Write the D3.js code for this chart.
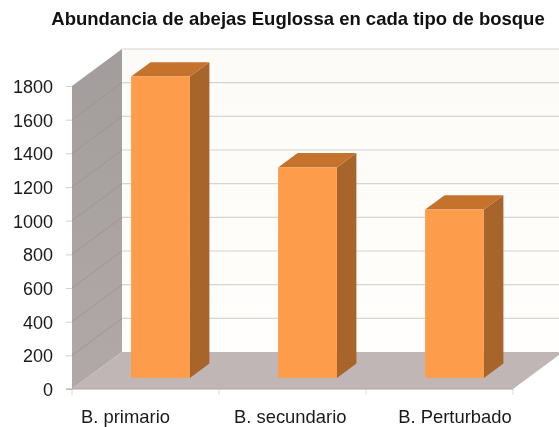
<!DOCTYPE html>
<html>
<head>
<meta charset="utf-8">
<script src="https://cdn.jsdelivr.net/npm/d3@7"></script>
<style>
  html, body { margin: 0; padding: 0; background: #fff; }
  text { font-family: "Liberation Sans", Arial, sans-serif; fill: #1a1a1a; }
  svg { filter: blur(0.4px); }
</style>
</head>
<body>
<div id="chart"></div>
<script>
const categories = ['B. primario', 'B. secundario', 'B. Perturbado']
const abundance = [1790, 1250, 1000]
const yTicks = [0, 200, 400, 600, 800, 1000, 1200, 1400, 1600, 1800]
const chartTitle = 'Abundancia de abejas Euglossa en cada tipo de bosque'

const width = 559
const height = 427
const depth = { dx: 50, dy: -37 }
const barFront = 0.3
const barBack = 0.69

const svg = d3.select('#chart').append('svg')
  .attr('width', width)
  .attr('height', height)
  .style('display', 'block')

const x = d3.scaleBand().domain(categories).range([72, 513]).paddingInner(0.6).paddingOuter(0.3)
const edges = d3.scaleLinear().domain([0, categories.length]).range([72, 513])
const y = d3.scaleLinear().domain([0, 1800]).range([389, 86])
const labelX = d3.scalePoint().domain(categories).range([125.5, 455])

// project a front-plane point back into the box, z from 0 to 1
const px = (v, z) => v + depth.dx * z
const py = (v, z) => v + depth.dy * z
const poly = (pts) => pts.map((p) => p.join(',')).join(' ')

const defs = svg.append('defs')
const wallGrad = defs.append('linearGradient').attr('id', 'wall').attr('x1', 0).attr('y1', 0).attr('x2', 0).attr('y2', 1)
wallGrad.append('stop').attr('offset', 0).attr('stop-color', '#fdfbf7')
wallGrad.append('stop').attr('offset', 1).attr('stop-color', '#fffefc')
const leftGrad = defs.append('linearGradient').attr('id', 'leftWall').attr('x1', 0).attr('y1', 0).attr('x2', 0).attr('y2', 1)
leftGrad.append('stop').attr('offset', 0).attr('stop-color', '#a29d9c')
leftGrad.append('stop').attr('offset', 1).attr('stop-color', '#b1a9a8')

const [x0, x1] = edges.range()
const yBase = y(0)
const yTop = y(1800)

// back wall
svg.append('rect')
  .attr('x', px(x0, 1))
  .attr('y', py(yTop, 1))
  .attr('width', width - px(x0, 1))
  .attr('height', yBase - yTop)
  .attr('fill', 'url(#wall)')

// grid on the back wall
svg.append('g')
  .selectAll('line')
  .data(yTicks.filter((t) => t > 0))
  .enter()
  .append('line')
  .attr('x1', px(x0, 1))
  .attr('x2', width)
  .attr('y1', (t) => py(y(t), 1))
  .attr('y2', (t) => py(y(t), 1))
  .attr('stroke', '#d8d4ce')
  .attr('stroke-width', 1.2)

// left wall
svg.append('polygon')
  .attr('points', poly([[x0, yBase], [x0, yTop], [px(x0, 1), py(yTop, 1)], [px(x0, 1), py(yBase, 1)]]))
  .attr('fill', 'url(#leftWall)')

svg.append('g')
  .selectAll('line')
  .data(yTicks.filter((t) => t > 0 && t < 1800))
  .enter()
  .append('line')
  .attr('x1', x0)
  .attr('x2', px(x0, 1))
  .attr('y1', (t) => y(t))
  .attr('y2', (t) => py(y(t), 1))
  .attr('stroke', '#9c9695')
  .attr('stroke-width', 1)

// floor
svg.append('polygon')
  .attr('points', poly([[x0, yBase], [px(x0, 1), py(yBase, 1)], [px(x1, 1), py(yBase, 1)], [x1, yBase]]))
  .attr('fill', '#bfb6b5')

// bars: side, top, front
const bars = svg.append('g')
  .selectAll('g')
  .data(categories.map((c, i) => ({ c, v: abundance[i] })))
  .enter()
  .append('g')

const left = (d) => px(x(d.c), barFront)
const right = (d) => left(d) + x.bandwidth()
const backOffset = barBack - barFront

bars.append('polygon')
  .attr('fill', '#a8652b')
  .attr('points', (d) => {
    const b = py(yBase, barFront)
    const t = py(y(d.v), barFront)
    const r = right(d)
    return poly([[r, b], [r, t], [px(r, backOffset), py(t, backOffset)], [px(r, backOffset), py(b, backOffset)]])
  })

bars.append('polygon')
  .attr('fill', '#c4722c')
  .attr('points', (d) => {
    const t = py(y(d.v), barFront)
    const l = left(d)
    const r = right(d)
    return poly([[l, t], [r, t], [px(r, backOffset), py(t, backOffset)], [px(l, backOffset), py(t, backOffset)]])
  })

bars.append('rect')
  .attr('fill', '#fd9c4a')
  .attr('x', left)
  .attr('y', (d) => py(y(d.v), barFront))
  .attr('width', x.bandwidth())
  .attr('height', (d) => yBase - y(d.v))

// axes
const yAxis = svg.append('g')
  .attr('transform', `translate(${x0},0)`)
  .call(d3.axisLeft(y).tickValues(yTicks).tickSize(6).tickPadding(13).tickFormat(d3.format('d')))
yAxis.select('.domain').remove()
yAxis.selectAll('line').attr('stroke', '#d0d0d0')
yAxis.selectAll('text').attr('font-size', 18).attr('dy', '0.36em')

svg.append('g')
  .selectAll('line')
  .data(d3.range(categories.length + 1))
  .enter()
  .append('line')
  .attr('x1', (i) => edges(i))
  .attr('x2', (i) => edges(i))
  .attr('y1', yBase)
  .attr('y2', yBase + 6)
  .attr('stroke', '#dcdcdc')

svg.append('line')
  .attr('x1', x0 - 6)
  .attr('x2', x1)
  .attr('y1', yBase)
  .attr('y2', yBase)
  .attr('stroke', '#aaa6a6')
  .attr('stroke-width', 1.2)

svg.append('g')
  .selectAll('text')
  .data(categories)
  .enter()
  .append('text')
  .attr('x', (c) => labelX(c))
  .attr('y', 423)
  .attr('text-anchor', 'middle')
  .attr('font-size', 18.4)
  .text((c) => c)

svg.append('text')
  .attr('x', 298)
  .attr('y', 25)
  .attr('text-anchor', 'middle')
  .attr('font-size', 18.5)
  .attr('font-weight', 'bold')
  .style('fill', '#111')
  .text(chartTitle)
</script>
</body>
</html>
